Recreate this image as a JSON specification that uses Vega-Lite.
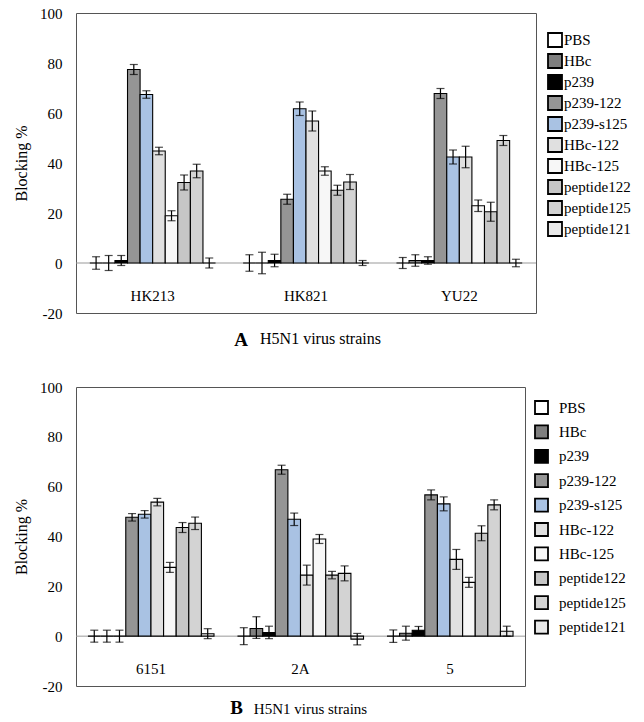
{
  "$schema": "https://vega.github.io/schema/vega-lite/v6.json",
  "padding": {"left": 13, "top": 5, "right": 0, "bottom": 0},
  "config": {"view": {"stroke": "#555", "strokeWidth": 1}, "font": "Liberation Serif, Times New Roman, serif"},
  "data": {"values": [
    {"panel":"A","strain":"HK213","series":"PBS","v":0,"lo":-2.5,"hi":2.5},
    {"panel":"A","strain":"HK213","series":"HBc","v":0,"lo":-3,"hi":3},
    {"panel":"A","strain":"HK213","series":"p239","v":1,"lo":-1,"hi":3},
    {"panel":"A","strain":"HK213","series":"p239-122","v":77.4,"lo":75.4,"hi":79.4},
    {"panel":"A","strain":"HK213","series":"p239-s125","v":67.4,"lo":65.9,"hi":68.9},
    {"panel":"A","strain":"HK213","series":"HBc-122","v":44.8,"lo":43.3,"hi":46.3},
    {"panel":"A","strain":"HK213","series":"HBc-125","v":18.9,"lo":16.9,"hi":20.9},
    {"panel":"A","strain":"HK213","series":"peptide122","v":32.2,"lo":29.2,"hi":35.2},
    {"panel":"A","strain":"HK213","series":"peptide125","v":36.8,"lo":34.1,"hi":39.5},
    {"panel":"A","strain":"HK213","series":"peptide121","v":0,"lo":-2,"hi":2},
    {"panel":"A","strain":"HK821","series":"PBS","v":0,"lo":-3.3,"hi":3.3},
    {"panel":"A","strain":"HK821","series":"HBc","v":0,"lo":-4.3,"hi":4.3},
    {"panel":"A","strain":"HK821","series":"p239","v":1,"lo":-1.5,"hi":3.5},
    {"panel":"A","strain":"HK821","series":"p239-122","v":25.5,"lo":23.5,"hi":27.5},
    {"panel":"A","strain":"HK821","series":"p239-s125","v":61.7,"lo":59,"hi":64.4},
    {"panel":"A","strain":"HK821","series":"HBc-122","v":56.8,"lo":52.8,"hi":60.8},
    {"panel":"A","strain":"HK821","series":"HBc-125","v":36.8,"lo":35.1,"hi":38.5},
    {"panel":"A","strain":"HK821","series":"peptide122","v":29.1,"lo":27.1,"hi":31.1},
    {"panel":"A","strain":"HK821","series":"peptide125","v":32.4,"lo":29.4,"hi":35.4},
    {"panel":"A","strain":"HK821","series":"peptide121","v":0,"lo":-1,"hi":1},
    {"panel":"A","strain":"YU22","series":"PBS","v":0,"lo":-2.2,"hi":2.2},
    {"panel":"A","strain":"YU22","series":"HBc","v":1,"lo":-1.3,"hi":3.3},
    {"panel":"A","strain":"YU22","series":"p239","v":1,"lo":-0.5,"hi":2.5},
    {"panel":"A","strain":"YU22","series":"p239-122","v":67.8,"lo":65.8,"hi":69.8},
    {"panel":"A","strain":"YU22","series":"p239-s125","v":42.4,"lo":39.6,"hi":45.2},
    {"panel":"A","strain":"YU22","series":"HBc-122","v":42.4,"lo":38.1,"hi":46.7},
    {"panel":"A","strain":"YU22","series":"HBc-125","v":22.9,"lo":20.6,"hi":25.2},
    {"panel":"A","strain":"YU22","series":"peptide122","v":20.5,"lo":16.7,"hi":24.3},
    {"panel":"A","strain":"YU22","series":"peptide125","v":49,"lo":47,"hi":51},
    {"panel":"A","strain":"YU22","series":"peptide121","v":0,"lo":-1.5,"hi":1.5},
    {"panel":"B","strain":"6151","series":"PBS","v":0,"lo":-2.4,"hi":2.4},
    {"panel":"B","strain":"6151","series":"HBc","v":0,"lo":-2.4,"hi":2.4},
    {"panel":"B","strain":"6151","series":"p239","v":0,"lo":-2.4,"hi":2.4},
    {"panel":"B","strain":"6151","series":"p239-122","v":47.7,"lo":46.2,"hi":49.2},
    {"panel":"B","strain":"6151","series":"p239-s125","v":48.9,"lo":47.4,"hi":50.4},
    {"panel":"B","strain":"6151","series":"HBc-122","v":53.8,"lo":52.3,"hi":55.3},
    {"panel":"B","strain":"6151","series":"HBc-125","v":27.6,"lo":25.6,"hi":29.6},
    {"panel":"B","strain":"6151","series":"peptide122","v":43.6,"lo":41.6,"hi":45.6},
    {"panel":"B","strain":"6151","series":"peptide125","v":45.3,"lo":42.8,"hi":47.8},
    {"panel":"B","strain":"6151","series":"peptide121","v":1,"lo":-1,"hi":3},
    {"panel":"B","strain":"2A","series":"PBS","v":0,"lo":-3.4,"hi":3.4},
    {"panel":"B","strain":"2A","series":"HBc","v":3.1,"lo":-0.9,"hi":7.8},
    {"panel":"B","strain":"2A","series":"p239","v":1.5,"lo":-1,"hi":4},
    {"panel":"B","strain":"2A","series":"p239-122","v":66.8,"lo":65,"hi":68.6},
    {"panel":"B","strain":"2A","series":"p239-s125","v":46.9,"lo":44.4,"hi":49.4},
    {"panel":"B","strain":"2A","series":"HBc-122","v":24.5,"lo":20.5,"hi":28.5},
    {"panel":"B","strain":"2A","series":"HBc-125","v":39,"lo":37.2,"hi":40.8},
    {"panel":"B","strain":"2A","series":"peptide122","v":24.5,"lo":23,"hi":26},
    {"panel":"B","strain":"2A","series":"peptide125","v":25.2,"lo":22.2,"hi":28.2},
    {"panel":"B","strain":"2A","series":"peptide121","v":-1.2,"lo":-3.5,"hi":1.1},
    {"panel":"B","strain":"5","series":"PBS","v":0,"lo":-2.5,"hi":2.5},
    {"panel":"B","strain":"5","series":"HBc","v":1.2,"lo":-1.6,"hi":4},
    {"panel":"B","strain":"5","series":"p239","v":2.4,"lo":0.9,"hi":3.9},
    {"panel":"B","strain":"5","series":"p239-122","v":56.7,"lo":54.7,"hi":58.7},
    {"panel":"B","strain":"5","series":"p239-s125","v":53.1,"lo":50.3,"hi":55.9},
    {"panel":"B","strain":"5","series":"HBc-122","v":30.8,"lo":26.8,"hi":34.8},
    {"panel":"B","strain":"5","series":"HBc-125","v":21.6,"lo":19.6,"hi":23.6},
    {"panel":"B","strain":"5","series":"peptide122","v":41.3,"lo":38.3,"hi":44.3},
    {"panel":"B","strain":"5","series":"peptide125","v":52.7,"lo":50.7,"hi":54.7},
    {"panel":"B","strain":"5","series":"peptide121","v":2,"lo":0,"hi":4}
  ]},
  "spacing": 28,
  "resolve": {
    "scale": {"x": "independent", "xOffset": "independent", "y": "independent", "fill": "independent"},
    "legend": {"fill": "independent"},
    "axis": {"x": "independent", "y": "independent"}
  },
  "vconcat": [
    {
      "width": 460,
      "height": 300,
      "transform": [{"filter": "datum.panel == 'A'"}],
      "title": {"text": "A", "orient": "bottom", "frame": "group", "anchor": "middle", "dx": -65, "offset": -15, "fontSize": 19, "fontWeight": "bold", "font": "Liberation Serif, Times New Roman, serif", "color": "black"},
      "layer": [
        {
          "data": {"values": [{"zero": 0}]},
          "mark": {"type": "rule", "color": "#999", "strokeWidth": 1},
          "encoding": {"y": {"field": "zero", "type": "quantitative"}}
        },
        {
          "mark": {"type": "bar", "stroke": "black", "strokeWidth": 1.1, "opacity": 1},
          "encoding": {
            "x": {"field": "strain", "type": "nominal", "sort": ["HK213", "HK821", "YU22"], "scale": {"paddingInner": 0.18, "paddingOuter": 0.09},
              "axis": {"title": "H5N1 virus strains", "labelAngle": 0, "ticks": false, "domain": false, "labelPadding": -25, "labelFontSize": 15, "labelColor": "black", "labelFont": "Liberation Serif, Times New Roman, serif", "titleFont": "Liberation Serif, Times New Roman, serif", "titleFontSize": 16, "titleFontWeight": "normal", "titleColor": "black", "titleX": 244, "titleY": 25, "titleBaseline": "middle"}},
            "xOffset": {"field": "series", "type": "nominal", "sort": ["PBS", "HBc", "p239", "p239-122", "p239-s125", "HBc-122", "HBc-125", "peptide122", "peptide125", "peptide121"], "scale": {"paddingInner": 0, "paddingOuter": 0}},
            "y": {"field": "v", "type": "quantitative", "scale": {"domain": [-20, 100], "nice": false, "zero": true},
              "axis": {"title": "Blocking %", "values": [-20, 0, 20, 40, 60, 80, 100], "labelExpr": "datum.value < 0 ? '-' + abs(datum.value) : '' + datum.value", "grid": false, "ticks": false, "domain": false, "labelFontSize": 15, "labelColor": "black", "labelFont": "Liberation Serif, Times New Roman, serif", "labelPadding": 14, "titleFont": "Liberation Serif, Times New Roman, serif", "titleFontSize": 16, "titleFontWeight": "normal", "titleColor": "black", "titlePadding": 10}},
            "fill": {"field": "series", "type": "nominal", "sort": ["PBS", "HBc", "p239", "p239-122", "p239-s125", "HBc-122", "HBc-125", "peptide122", "peptide125", "peptide121"],
              "scale": {"domain": ["PBS", "HBc", "p239", "p239-122", "p239-s125", "HBc-122", "HBc-125", "peptide122", "peptide125", "peptide121"], "range": ["#ffffff", "#7f7f7f", "#000000", "#959595", "#a9c2e3", "#e0e0e0", "#f7f7f7", "#c6c6c6", "#d3d3d3", "#e9e9e9"]},
              "legend": {"orient": "none", "legendX": 471, "legendY": 19, "title": null, "symbolType": "square", "symbolSize": 196, "symbolStrokeColor": "black", "symbolStrokeWidth": 1.8, "symbolOpacity": 1, "labelFontSize": 15, "labelFont": "Liberation Serif, Times New Roman, serif", "labelColor": "black", "labelOffset": 1, "rowPadding": -1, "labelBaseline": "middle"}}
          }
        },
        {
          "mark": {"type": "rule", "color": "black", "strokeWidth": 1.2},
          "encoding": {
            "x": {"field": "strain", "type": "nominal", "sort": ["HK213", "HK821", "YU22"]},
            "xOffset": {"field": "series", "type": "nominal", "sort": ["PBS", "HBc", "p239", "p239-122", "p239-s125", "HBc-122", "HBc-125", "peptide122", "peptide125", "peptide121"]},
            "y": {"field": "lo", "type": "quantitative"},
            "y2": {"field": "hi"}
          }
        },
        {
          "mark": {"type": "tick", "color": "black", "thickness": 1.2, "size": 8},
          "encoding": {
            "x": {"field": "strain", "type": "nominal", "sort": ["HK213", "HK821", "YU22"]},
            "xOffset": {"field": "series", "type": "nominal", "sort": ["PBS", "HBc", "p239", "p239-122", "p239-s125", "HBc-122", "HBc-125", "peptide122", "peptide125", "peptide121"]},
            "y": {"field": "lo", "type": "quantitative"}
          }
        },
        {
          "mark": {"type": "tick", "color": "black", "thickness": 1.2, "size": 8},
          "encoding": {
            "x": {"field": "strain", "type": "nominal", "sort": ["HK213", "HK821", "YU22"]},
            "xOffset": {"field": "series", "type": "nominal", "sort": ["PBS", "HBc", "p239", "p239-122", "p239-s125", "HBc-122", "HBc-125", "peptide122", "peptide125", "peptide121"]},
            "y": {"field": "hi", "type": "quantitative"}
          }
        }
      ]
    },
    {
      "width": 449,
      "height": 299,
      "transform": [{"filter": "datum.panel == 'B'"}],
      "title": {"text": "B", "orient": "bottom", "frame": "group", "anchor": "middle", "dx": -64, "offset": -17, "fontSize": 19, "fontWeight": "bold", "font": "Liberation Serif, Times New Roman, serif", "color": "black"},
      "layer": [
        {
          "data": {"values": [{"zero": 0}]},
          "mark": {"type": "rule", "color": "#999", "strokeWidth": 1},
          "encoding": {"y": {"field": "zero", "type": "quantitative"}}
        },
        {
          "mark": {"type": "bar", "stroke": "black", "strokeWidth": 1.1, "opacity": 1},
          "encoding": {
            "x": {"field": "strain", "type": "nominal", "sort": ["6151", "2A", "5"], "scale": {"paddingInner": 0.157, "paddingOuter": 0.08},
              "axis": {"title": "H5N1 virus strains", "labelAngle": 0, "ticks": false, "domain": false, "labelPadding": -25, "labelFontSize": 15, "labelColor": "black", "labelFont": "Liberation Serif, Times New Roman, serif", "titleFont": "Liberation Serif, Times New Roman, serif", "titleFontSize": 15, "titleFontWeight": "normal", "titleColor": "black", "titleX": 234, "titleY": 22, "titleBaseline": "middle"}},
            "xOffset": {"field": "series", "type": "nominal", "sort": ["PBS", "HBc", "p239", "p239-122", "p239-s125", "HBc-122", "HBc-125", "peptide122", "peptide125", "peptide121"], "scale": {"paddingInner": 0, "paddingOuter": 0}},
            "y": {"field": "v", "type": "quantitative", "scale": {"domain": [-20, 100], "nice": false, "zero": true},
              "axis": {"title": "Blocking %", "values": [-20, 0, 20, 40, 60, 80, 100], "labelExpr": "datum.value < 0 ? '-' + abs(datum.value) : '' + datum.value", "grid": false, "ticks": false, "domain": false, "labelFontSize": 15, "labelColor": "black", "labelFont": "Liberation Serif, Times New Roman, serif", "labelPadding": 14, "titleFont": "Liberation Serif, Times New Roman, serif", "titleFontSize": 16, "titleFontWeight": "normal", "titleColor": "black", "titlePadding": 10}},
            "fill": {"field": "series", "type": "nominal", "sort": ["PBS", "HBc", "p239", "p239-122", "p239-s125", "HBc-122", "HBc-125", "peptide122", "peptide125", "peptide121"],
              "scale": {"domain": ["PBS", "HBc", "p239", "p239-122", "p239-s125", "HBc-122", "HBc-125", "peptide122", "peptide125", "peptide121"], "range": ["#ffffff", "#7f7f7f", "#000000", "#959595", "#a9c2e3", "#e0e0e0", "#f7f7f7", "#c6c6c6", "#d3d3d3", "#e9e9e9"]},
              "legend": {"orient": "none", "legendX": 458, "legendY": 13, "title": null, "symbolType": "square", "symbolSize": 169, "symbolStrokeColor": "black", "symbolStrokeWidth": 1.8, "symbolOpacity": 1, "labelFontSize": 15, "labelFont": "Liberation Serif, Times New Roman, serif", "labelColor": "black", "labelOffset": 10, "rowPadding": 3.4, "labelBaseline": "middle"}}
          }
        },
        {
          "mark": {"type": "rule", "color": "black", "strokeWidth": 1.2},
          "encoding": {
            "x": {"field": "strain", "type": "nominal", "sort": ["6151", "2A", "5"]},
            "xOffset": {"field": "series", "type": "nominal", "sort": ["PBS", "HBc", "p239", "p239-122", "p239-s125", "HBc-122", "HBc-125", "peptide122", "peptide125", "peptide121"]},
            "y": {"field": "lo", "type": "quantitative"},
            "y2": {"field": "hi"}
          }
        },
        {
          "mark": {"type": "tick", "color": "black", "thickness": 1.2, "size": 8},
          "encoding": {
            "x": {"field": "strain", "type": "nominal", "sort": ["6151", "2A", "5"]},
            "xOffset": {"field": "series", "type": "nominal", "sort": ["PBS", "HBc", "p239", "p239-122", "p239-s125", "HBc-122", "HBc-125", "peptide122", "peptide125", "peptide121"]},
            "y": {"field": "lo", "type": "quantitative"}
          }
        },
        {
          "mark": {"type": "tick", "color": "black", "thickness": 1.2, "size": 8},
          "encoding": {
            "x": {"field": "strain", "type": "nominal", "sort": ["6151", "2A", "5"]},
            "xOffset": {"field": "series", "type": "nominal", "sort": ["PBS", "HBc", "p239", "p239-122", "p239-s125", "HBc-122", "HBc-125", "peptide122", "peptide125", "peptide121"]},
            "y": {"field": "hi", "type": "quantitative"}
          }
        }
      ]
    }
  ]
}
